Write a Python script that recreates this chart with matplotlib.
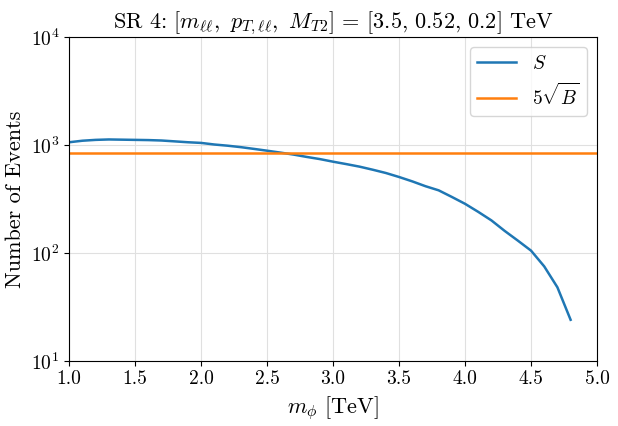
import numpy as np
import matplotlib
matplotlib.use('Agg')
import matplotlib.pyplot as plt

plt.rcParams['font.family'] = 'serif'
plt.rcParams['font.serif'] = ['cmr10']
plt.rcParams['mathtext.fontset'] = 'cm'
plt.rcParams['axes.formatter.use_mathtext'] = True
plt.rcParams['axes.unicode_minus'] = False

# signal yield vs mediator mass
m_phi = [1.0, 1.1, 1.2, 1.3, 1.4, 1.5, 1.6, 1.7, 1.8, 1.9,
         2.0, 2.1, 2.2, 2.3, 2.4, 2.5, 2.6, 2.7, 2.8, 2.9,
         3.0, 3.1, 3.2, 3.3, 3.4, 3.5, 3.6, 3.7, 3.8, 3.9,
         4.0, 4.1, 4.2, 4.3, 4.4, 4.5, 4.6, 4.7, 4.8]
signal = [1060, 1095, 1115, 1125, 1120, 1115, 1110, 1100, 1080, 1060,
          1045, 1010, 985, 955, 920, 885, 850, 815, 775, 740,
          700, 665, 630, 590, 550, 505, 460, 415, 380, 330,
          285, 240, 200, 160, 130, 105, 75, 48, 24]
five_sqrt_b = 843

fig = plt.figure(figsize=(6.18, 4.26), dpi=100)
ax = fig.add_axes([0.112, 0.153, 0.854, 0.76])

ax.plot(m_phi, signal, color='#1f77b4', lw=1.8, label=r'$S$')
ax.axhline(five_sqrt_b, color='#ff7f0e', lw=1.8, label=r'$5\sqrt{B}$')

ax.set_yscale('log')
ax.set_xlim(1.0, 5.0)
ax.set_ylim(10, 1e4)
ax.set_xticks(np.arange(1.0, 5.01, 0.5))
ax.set_xticklabels(['%.1f' % v for v in np.arange(1.0, 5.01, 0.5)])
ax.yaxis.set_minor_locator(matplotlib.ticker.NullLocator())
ax.tick_params(labelsize=14)
ax.grid(True, color='#e0e0e0', lw=0.8)

ax.set_xlabel(r'$m_\phi$ [TeV]', fontsize=16)
ax.set_ylabel('Number of Events', fontsize=16)
ax.set_title(r'SR 4: $[m_{\ell\ell},\ p_{T,\ell\ell},\ M_{T2}]$ = [3.5, 0.52, 0.2] TeV', fontsize=16)
ax.legend(fontsize=14, loc='upper right')

fig.savefig('out.png', dpi=100)
